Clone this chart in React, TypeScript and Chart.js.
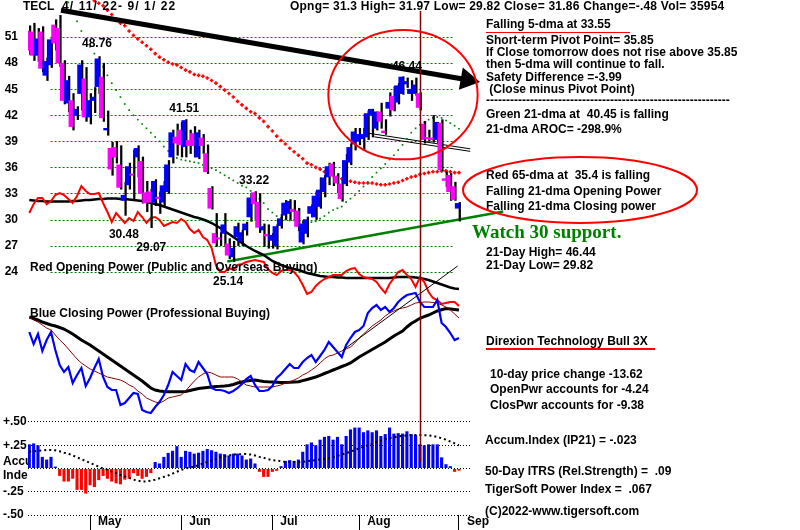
import React, { useEffect, useRef } from "react";
import { Chart, registerables } from "chart.js";
Chart.register(...registerables);

// ---------- data ----------
const MONTH_LABELS = ["May", "Jun", "Jul", "Aug", "Sep"];
const MONTH_START_IDX = [14, 35, 56, 76, 99];
const PRICE_TICKS = [24, 27, 30, 33, 36, 39, 42, 45, 48, 51];
const ACCUM_TICKS = [-0.5, -0.25, 0, 0.25, 0.5];

const OPEN = [51.7,51.6,48.9,51.6,46.6,47.8,52.4,52.0,48.0,43.4,43.7,42.0,44.5,46.2,41.8,43.7,45.3,46.4,40.3,38.2,38.3,36.3,32.2,34.0,35.25,37.2,36.7,33.1,33.2,32.0,32.6,32.0,33.2,37.2,39.5,40.3,38.4,39.1,39.9,37.2,39.4,37.6,33.6,28.4,27.9,28.4,27.2,25.7,28.0,27.5,28.8,30.3,33.1,32.0,28.8,28.3,27.6,27.0,29.3,30.5,30.7,31.2,31.0,27.4,28.4,30.7,30.3,31.5,33.2,34.9,36.4,35.0,34.1,34.1,36.6,38.7,39.0,39.3,39.5,42.0,40.5,42.4,40.2,42.8,44.2,43.5,44.5,45.6,44.5,44.5,44.5,41.0,39.45,39.4,39.2,41.1,34.7,35.1,33.8,31.3];
const HIGH = [52.3,52.6,52.0,52.2,48.6,51.0,53.0,53.5,48.3,46.5,44.5,43.0,48.3,47.5,44.5,45.2,48.76,48.0,42.5,38.9,39.0,38.5,34.3,36.5,38.0,38.5,37.2,34.4,33.5,34.6,33.2,34.4,36.8,40.3,41.0,41.2,41.51,40.3,40.7,40.3,39.8,38.6,33.8,30.7,28.5,30.7,27.8,27.5,29.6,28.8,29.7,33.0,33.22,33.0,29.5,29.4,28.4,29.4,30.6,32.2,32.3,32.2,31.3,29.9,30.3,31.7,33.2,34.8,35.1,36.5,36.6,35.3,34.5,37.5,38.7,40.5,40.5,40.5,42.5,42.7,42.4,43.4,41.5,44.6,45.3,45.7,46.44,46.3,46.0,46.3,44.6,41.3,40.3,42.0,41.2,41.5,35.5,35.3,34.3,31.97];
const LOW = [49.0,48.3,48.2,47.0,46.0,47.5,49.5,47.6,43.3,42.4,40.3,41.5,42.6,41.3,41.0,42.3,44.5,41.3,39.7,35.1,36.5,33.5,30.48,33.5,32.3,34.9,31.9,30.9,29.07,31.6,30.7,31.5,33.0,36.5,37.4,37.2,37.2,37.6,37.2,37.0,37.6,35.3,31.2,26.9,27.0,26.9,25.5,25.14,27.0,27.0,28.2,29.8,30.0,28.5,26.9,26.7,26.7,26.6,29.0,30.0,30.0,30.0,28.7,27.2,28.0,30.3,30.0,31.3,32.6,34.0,33.9,33.1,32.1,33.9,36.3,38.0,38.6,38.0,39.2,39.5,40.3,40.5,39.8,41.9,42.5,43.3,44.4,45.2,43.7,44.3,42.6,38.8,39.0,38.9,38.8,35.6,33.8,32.2,32.2,29.82];
const CLOSE = [49.5,48.9,50.8,47.4,48.2,50.7,50.3,48.0,43.7,46.0,40.7,42.7,47.8,41.8,43.7,44.1,48.5,41.7,40.5,35.8,37.2,33.7,32.8,36.1,35.1,38.2,33.0,31.9,32.0,34.4,32.4,33.9,36.3,40.0,38.8,38.6,41.4,38.5,38.5,40.0,38.5,35.5,31.3,27.3,27.75,29.4,25.9,26.7,29.2,28.5,29.5,32.5,31.8,29.1,29.2,28.1,28.2,29.2,30.1,31.9,32.1,30.9,29.2,29.5,30.0,31.5,32.7,33.4,34.8,36.1,35.0,34.2,32.4,36.8,38.3,40.1,39.8,39.8,42.2,42.7,42.4,41.3,40.0,43.5,42.6,45.4,46.4,45.9,45.0,45.5,42.9,39.2,39.3,39.2,41.2,35.7,34.5,33.2,32.3,31.86];

const MA21_START = 9;
const MA21 = [55.0,54.0,52.8,51.7,50.7,49.9,49.1,48.3,47.6,46.6,45.7,44.9,44.1,43.3,42.6,42.0,41.5,41.0,40.5,40.0,39.5,39.0,38.4,37.9,37.4,37.1,36.9,36.8,36.7,36.6,36.5,36.3,36.1,35.9,35.7,35.4,35.1,34.8,34.5,34.2,33.9,33.7,33.3,32.8,32.4,31.9,31.2,30.8,30.4,30.2,30.0,29.9,29.9,29.8,29.7,29.6,29.7,29.8,30.1,30.4,30.8,31.1,31.3,31.5,32.0,32.4,32.8,33.3,33.8,34.3,34.9,35.4,35.9,36.4,36.9,37.4,38.0,38.6,39.3,40.0,40.5,40.9,41.2,41.5,41.7,41.8,41.7,41.4,41.1,40.8,40.45];
const MA65_START = 14;
const MA65 = [55.6,55.2,54.9,54.6,54.1,53.6,53.1,52.6,52.3,51.7,51.2,50.8,50.4,50.0,49.6,49.1,48.7,48.4,48.1,47.9,47.8,47.5,47.2,47.0,46.7,46.6,46.5,46.3,46.0,45.7,45.3,44.9,44.5,44.1,43.6,43.2,42.8,42.4,42.2,41.7,41.3,40.7,40.2,39.6,39.1,38.7,38.2,37.8,37.4,37.0,36.5,36.3,36.0,35.8,35.5,35.3,35.1,34.9,34.7,34.5,34.4,34.3,34.2,34.2,34.2,34.2,34.1,34.0,34.0,34.1,34.2,34.3,34.5,34.7,34.9,35.0,35.2,35.3,35.4,35.5,35.5,35.6,35.6,35.5,35.4,35.4];

// Opening power (red) and its smoothing (black), arbitrary units
const OPEN_POWER = [302,311,317,317,311,314,320,322,320,316,312,319,329,324,321,321,322,312,303,293,302,297,292,297,294,303,298,292,297,298,295,289,291,293,292,296,293,286,282,285,278,275,267,250,243,243,247,245,250,251,253,254,255,254,253,246,242,240,244,245,245,243,238,230,221,223,229,233,236,238,240,240,240,244,246,247,241,238,237,236,233,227,222,231,237,243,245,240,236,228,238,233,223,217,215,211,212,213,213,209];
const OPEN_POWER_MA = [315,314.5,314,314,313.5,313.5,313.5,313.5,313.5,313.5,314,314,314.5,315,315,315.5,316,316,316.5,316.5,316.5,316,316,315.5,315,314.5,314,313,312,311,310,308.5,307,305.5,304,302.5,301,299.5,298,297,295.5,294,292,289.5,287,284,281,278,275,272,269,266.5,264,262,260,257,254,252,250,248.5,247,246,245,243.5,242,241,240,239,238.5,238,238,237.5,237.5,237,237,237,237,237,237,237,237,237,237,237,237.5,238,238,238,238,237.5,237,236,235,233.5,232,230.5,229,227.5,226.5,226];
// Closing power (blue) and its averages, arbitrary units
const CLOSE_POWER = [183,171,181,164,175,183,165,150,143,148,132,140,147,129,137,147,156,138,128,125,125,110,112,117,122,121,105,103,102,108,113,120,130,143,139,135,151,145,143,153,147,141,127,125,125,124,122,124,127,131,136,139,130,124,124,125,129,137,141,146,151,147,147,153,157,160,153,159,165,173,168,163,158,170,177,183,185,189,202,207,210,205,208,203,207,213,217,220,221,222,213,208,208,208,215,192,188,182,175,177];
const CLOSE_POWER_MA_SHORT = [198,195,193,190,187,185,180,175,171,166,161,156,152,149,146,144,142,140,138,137,136,135,133,130,128,124,121,117,115,113,112,114,117,118,119,120,124,129,134,138,141,143,142,140,138,138,138,138,136,133,130,129,128,128,128,128,128,129,130,132,133,135,137,140,142,145,148,152,156,159,160,162,164,166,168,172,177,181,185,189,192,195,199,202,204,206,207,208,210,212,212.5,213,213,212.5,212,210,208,205,201,197];
const CLOSE_POWER_MA_LONG = [198,196.5,195,193,191.5,190,189,187.5,186,183.5,181,178,175,172.5,170,167,164,161,158,155,152,149,146,143,140,137,134,130.5,127,125,124,123.5,123.3,123.3,123.3,123.3,123.5,124.5,125.5,126.5,127,127.5,128,128.5,128.7,129,129.5,130.5,132,133,134,134.5,135,134.2,133.5,133.2,133,132.7,132.4,132.5,132.7,133,133.3,134.4,135.5,136.7,138,139.7,141.5,143.2,145,146.7,148.5,150.2,152,155,158,160.5,163,165.5,168,170.5,173,176,179,181.5,184,188,191.5,194,196.7,198.4,200,202,204,205.2,206.5,206,205.5,205];
const CLOSE_POWER_TREND = [{ x: 72.3, y: 165 }, { x: 98.7, y: 249 }];

const ACCUM = [0.26,0.27,0.25,0.125,0.096,0.125,0.02,-0.08,-0.14,-0.14,-0.11,-0.23,-0.23,-0.27,-0.18,-0.2,-0.125,-0.08,-0.11,-0.14,-0.16,-0.17,-0.12,-0.11,-0.05,-0.08,-0.11,-0.09,-0.05,0.07,0.054,0.125,0.168,0.19,0.24,0.125,0.19,0.18,0.16,0.17,0.19,0.21,0.196,0.18,0.16,0.154,0.14,0.16,0.16,0.14,0.096,0.107,0.054,-0.036,-0.09,-0.09,-0.036,-0.025,0.025,0.082,0.09,0.082,0.096,0.18,0.26,0.28,0.25,0.31,0.34,0.35,0.31,0.34,0.26,0.35,0.42,0.44,0.44,0.39,0.41,0.39,0.41,0.35,0.37,0.44,0.375,0.38,0.375,0.4,0.37,0.36,0.26,0.25,0.26,0.26,0.26,0.12,0.046,0.025,-0.036,-0.023];
const ACCUM_MA = [0.18,0.185,0.19,0.195,0.2,0.2,0.195,0.185,0.17,0.16,0.14,0.12,0.1,0.08,0.06,0.04,0.02,0.0,-0.015,-0.035,-0.05,-0.07,-0.085,-0.1,-0.12,-0.13,-0.14,-0.14,-0.13,-0.12,-0.105,-0.09,-0.075,-0.055,-0.035,-0.015,0.0,0.01,0.02,0.035,0.055,0.07,0.085,0.1,0.12,0.13,0.14,0.15,0.152,0.155,0.155,0.15,0.14,0.125,0.115,0.1,0.09,0.085,0.078,0.07,0.07,0.07,0.07,0.072,0.078,0.084,0.09,0.097,0.105,0.112,0.12,0.135,0.15,0.165,0.18,0.2,0.215,0.235,0.25,0.265,0.285,0.3,0.315,0.325,0.335,0.345,0.35,0.355,0.358,0.36,0.36,0.358,0.355,0.35,0.34,0.325,0.31,0.29,0.27,0.25];

const TREND_ARROW = [{ x: 7.3, y: 54.1 }, { x: 100.9, y: 46.1 }];
const SUPPORT_LINE = [{ x: 45.6, y: 25.16 }, { x: 109.2, y: 30.93 }];
const CHANNEL_A = [{ x: 78.2, y: 39.93 }, { x: 101.6, y: 38.14 }];
const CHANNEL_B = [{ x: 79.5, y: 39.52 }, { x: 101.6, y: 37.85 }];
const MARKER_IDX = 90;

const PRICE_NOTES = [
  { t: "48.76", x: 15.6, y: 50.2 },
  { t: "41.51", x: 35.7, y: 42.8 },
  { t: "33.22", x: 51.8, y: 34.5 },
  { t: "30.48", x: 21.8, y: 28.3 },
  { t: "29.07", x: 28.1, y: 26.8 },
  { t: "25.14", x: 45.8, y: 22.9 },
  { t: "46.44", x: 87.0, y: 47.65 },
];
const CIRCLE = { x: 86.1, y: 44.37, rx: 17.2, ry: 7.44 };

const FAMILY = '"Liberation Sans", Arial, sans-serif';
const FONT = `bold 12px ${FAMILY}`;
const TEXTS = [
  { t: "TECL", x: 23, y: 7 },
  { t: "4/ 11/ 22- 9/ 1/ 22", x: 62, y: 7, spacing: 1.1 },
  { t: "Opng= 31.3 High= 31.97 Low= 29.82 Close= 31.86 Change=-.48 Vol= 35954", x: 290, y: 7, spacing: 0.22 },
  { t: "Falling 5-dma at 33.55", x: 486, y: 25 },
  { t: "Short-term Pivot Point= 35.85", x: 486, y: 41 },
  { t: "If Close tomorrow does not rise above 35.85", x: 486, y: 53 },
  { t: "then 5-dma will continue to fall.", x: 486, y: 65 },
  { t: "Safety Difference =-3.99", x: 486, y: 78 },
  { t: " (Close minus Pivot Point)", x: 486, y: 90 },
  { t: "-".repeat(61), x: 486, y: 101 },
  { t: "Green 21-dma at  40.45 is falling", x: 486, y: 115 },
  { t: "21-dma AROC= -298.9%", x: 486, y: 130 },
  { t: "Red 65-dma at  35.4 is falling", x: 486, y: 176 },
  { t: "Falling 21-dma Opening Power", x: 486, y: 192 },
  { t: "Falling 21-dma Closing power", x: 486, y: 207 },
  { t: "Watch 30 support.", x: 472, y: 233, font: 'bold 19px "Liberation Serif", "Times New Roman", serif', color: "#008000" },
  { t: "21-Day High= 46.44", x: 486, y: 253 },
  { t: "21-Day Low= 29.82", x: 486, y: 266 },
  { t: "Direxion Technology Bull 3X", x: 486, y: 342 },
  { t: "10-day price change -13.62", x: 490, y: 375 },
  { t: "OpenPwr accounts for -4.24", x: 490, y: 390 },
  { t: "ClosPwr accounts for -9.38", x: 490, y: 406 },
  { t: "Accum.Index (IP21) = -.023", x: 485, y: 441 },
  { t: "50-Day ITRS (Rel.Strength) =  .09", x: 485, y: 472 },
  { t: "TigerSoft Power Index =  .067", x: 485, y: 490 },
  { t: "(C)2022-www.tigersoft.com", x: 485, y: 512 },
  { t: "Red Opening Power (Public and Overseas Buying)", x: 30, y: 268 },
  { t: "Blue Closing Power (Professional Buying)", x: 30, y: 314 },
];

// ---------- helpers ----------
const series = (arr: number[], start = 0) => arr.map((v, k) => ({ x: k + start, y: v }));

const annotPlugin = {
  id: "annot",
  beforeDatasetsDraw(chart: any) {
    const { ctx, scales } = chart;
    const x = scales.x, y = scales.y;
    ctx.save();
    ctx.strokeStyle = "#008000";
    ctx.lineWidth = 1;
    ctx.setLineDash([2, 2]);
    const x0 = x.getPixelForValue(4.9), x1 = x.getPixelForValue(97.7);
    for (const t of PRICE_TICKS) {
      const py = Math.round(y.getPixelForValue(t)) + 0.5;
      ctx.beginPath();
      ctx.moveTo(x0, py);
      ctx.lineTo(x1, py);
      ctx.stroke();
    }
    ctx.restore();
  },
  afterDatasetsDraw(chart: any) {
    const { ctx, scales } = chart;
    const x = scales.x, y = scales.y, ya = scales.yAcc;
    ctx.save();
    const mx = Math.round(x.getPixelForValue(MARKER_IDX)) + 0.5;
    ctx.strokeStyle = "#800000";
    ctx.lineWidth = 1.5;
    ctx.beginPath();
    ctx.moveTo(mx, y.getPixelForValue(54.0));
    ctx.lineTo(mx, ya.getPixelForValue(0.07));
    ctx.stroke();
    const cx = x.getPixelForValue(CIRCLE.x), cy = y.getPixelForValue(CIRCLE.y);
    const rx = Math.abs(x.getPixelForValue(CIRCLE.x + CIRCLE.rx) - cx);
    const ry = Math.abs(y.getPixelForValue(CIRCLE.y + CIRCLE.ry) - cy);
    ctx.strokeStyle = "#ff0000";
    ctx.lineWidth = 2;
    ctx.beginPath();
    ctx.ellipse(cx, cy, rx, ry, 0, 0, Math.PI * 2);
    ctx.stroke();
    ctx.fillStyle = "#000";
    ctx.font = FONT;
    ctx.textAlign = "center";
    ctx.textBaseline = "middle";
    for (const n of PRICE_NOTES) {
      ctx.fillText(n.t, x.getPixelForValue(n.x), y.getPixelForValue(n.y));
    }
    ctx.restore();
  },
  afterDraw(chart: any) {
    const { ctx } = chart;
    ctx.save();
    ctx.textAlign = "left";
    ctx.textBaseline = "middle";
    for (const s of TEXTS) {
      ctx.font = (s as any).font || FONT;
      ctx.fillStyle = (s as any).color || "#000";
      (ctx as any).letterSpacing = ((s as any).spacing || 0) + "px";
      ctx.fillText(s.t, s.x, s.y);
    }
    (ctx as any).letterSpacing = "0px";
    ctx.strokeStyle = "#ff0000";
    ctx.lineWidth = 1;
    ctx.beginPath();
    ctx.moveTo(486, 32.5);
    ctx.lineTo(630, 32.5);
    ctx.stroke();
    ctx.lineWidth = 2;
    ctx.beginPath();
    ctx.moveTo(486, 349);
    ctx.lineTo(655, 349);
    ctx.stroke();
    ctx.beginPath();
    ctx.ellipse(580, 190, 117, 33, 0, 0, Math.PI * 2);
    ctx.stroke();
    ctx.restore();
  },
};

export default function App() {
  const ref = useRef<HTMLCanvasElement | null>(null);
  useEffect(() => {
    if (!ref.current) return;
    const bodyData = OPEN.map((o, i) => ({ x: i, y: [o, CLOSE[i]] }));
    const wickData = HIGH.map((h, i) => ({ x: i, y: [LOW[i], h] }));
    const bodyColors = OPEN.map((o, i) => (CLOSE[i] >= o ? "#0000ff" : "#ff00ff"));
    const accColors = ACCUM.map((v) => (v >= 0 ? "#0000ff" : "#ff0000"));
    const lineBase = { type: "line", pointRadius: 0, pointHoverRadius: 0, tension: 0, fill: false };
    const tickFont = { family: FAMILY, size: 12, weight: "bold" };
    const chart = new Chart(ref.current, {
      type: "bar",
      data: {
        datasets: [
          { ...lineBase, label: "trend", data: TREND_ARROW, yAxisID: "y", borderColor: "#000", borderWidth: 5,
            pointRadius: [0, 8], pointStyle: "triangle", pointRotation: [0, 100], pointBackgroundColor: "#000",
            pointBorderColor: "#000", clip: false, order: 0 } as any,
          { type: "bar", label: "body", data: bodyData, yAxisID: "y", backgroundColor: bodyColors, barThickness: 3.8,
            borderWidth: 0, order: 1 } as any,
          { type: "bar", label: "wick", data: wickData, yAxisID: "y", backgroundColor: "#000", barThickness: 1.6,
            borderWidth: 0, order: 2 } as any,
          { ...lineBase, label: "ma21", data: series(MA21, MA21_START), yAxisID: "y", showLine: false,
            pointRadius: 1.2, pointStyle: "rect", pointBackgroundColor: "#008000", pointBorderColor: "#008000",
            pointBorderWidth: 0, order: 3 } as any,
          { ...lineBase, label: "ma65", data: series(MA65, MA65_START), yAxisID: "y", showLine: false,
            pointRadius: 1.8, pointStyle: "cross", pointBorderColor: "#ff0000", pointBorderWidth: 1.6, order: 4 } as any,
          { ...lineBase, label: "chA", data: CHANNEL_A, yAxisID: "y", borderColor: "#000", borderWidth: 1, clip: false, order: 5 } as any,
          { ...lineBase, label: "chB", data: CHANNEL_B, yAxisID: "y", borderColor: "#000", borderWidth: 1, clip: false, order: 5 } as any,
          { ...lineBase, label: "cpTrend", data: CLOSE_POWER_TREND, yAxisID: "yPwr", borderColor: "#000", borderWidth: 1, order: 6 } as any,
          { ...lineBase, label: "cp", data: series(CLOSE_POWER), yAxisID: "yPwr", borderColor: "#0000ff", borderWidth: 2.2, order: 7 } as any,
          { ...lineBase, label: "cpS", data: series(CLOSE_POWER_MA_SHORT), yAxisID: "yPwr", borderColor: "#8b0000", borderWidth: 1, order: 8 } as any,
          { ...lineBase, label: "cpL", data: series(CLOSE_POWER_MA_LONG), yAxisID: "yPwr", borderColor: "#000", borderWidth: 3, order: 9 } as any,
          { ...lineBase, label: "op", data: series(OPEN_POWER), yAxisID: "yPwr", borderColor: "#ff0000", borderWidth: 2, order: 10 } as any,
          { ...lineBase, label: "opMA", data: series(OPEN_POWER_MA), yAxisID: "yPwr", borderColor: "#000", borderWidth: 2.5, order: 11 } as any,
          { ...lineBase, label: "support", data: SUPPORT_LINE, yAxisID: "y", borderColor: "#008000", borderWidth: 2.5, clip: false, order: 12 } as any,
          { ...lineBase, label: "accMA", data: series(ACCUM_MA), yAxisID: "yAcc", borderColor: "#000", borderWidth: 2,
            borderDash: [2, 3], order: 13 } as any,
          { type: "bar", label: "acc", data: series(ACCUM), yAxisID: "yAcc", backgroundColor: accColors, grouped: false,
            maxBarThickness: 3.4, borderWidth: 0, order: 14 } as any,
        ],
      },
      options: {
        animation: false,
        responsive: false,
        events: [],
        layout: { autoPadding: false, padding: { left: 3, right: 328, top: 0, bottom: 0 } },
        plugins: { legend: { display: false }, tooltip: { enabled: false } },
        scales: {
          x: {
            type: "linear", min: -0.3, max: 102, offset: false, bounds: "data", grace: 0,
            afterBuildTicks: (s: any) => { s.ticks = MONTH_START_IDX.map((v) => ({ value: v })); },
            afterFit: (s: any) => { s.height = 15; s.paddingLeft = 0; s.paddingRight = 0; },
            ticks: {
              callback: (v: any) => { const k = MONTH_START_IDX.indexOf(v); return k >= 0 ? MONTH_LABELS[k] : ""; },
              align: "start", labelOffset: 8, padding: -16, autoSkip: false, maxRotation: 0,
              font: tickFont, color: "#000",
            },
            grid: { offset: false, drawOnChartArea: false, drawTicks: true, tickLength: 15, color: "#000", lineWidth: 1 },
            border: { display: false },
          },
          y: {
            type: "linear", position: "left", stack: "L", stackWeight: 410, weight: 2, min: 8.08, max: 55.27,
            afterBuildTicks: (s: any) => { s.ticks = PRICE_TICKS.map((v) => ({ value: v })); },
            afterFit: (s: any) => { s.width = 25; s.paddingTop = 0; s.paddingBottom = 0; },
            ticks: { crossAlign: "near", padding: 10, autoSkip: false, font: tickFont, color: "#000" },
            grid: { display: false, drawTicks: false },
            border: { display: false },
          },
          yAcc: {
            type: "linear", position: "left", stack: "L", stackWeight: 105, weight: 1, min: -0.5, max: 0.629,
            afterBuildTicks: (s: any) => { s.ticks = ACCUM_TICKS.map((v) => ({ value: v })); },
            afterFit: (s: any) => { s.width = 25; s.paddingTop = 0; s.paddingBottom = 0; },
            ticks: {
              crossAlign: "far", padding: 0, autoSkip: false, font: tickFont, color: "#000",
              callback: (v: any) => {
                if (v === 0) return ["Accu", "Index"];
                const s = Math.abs(v).toFixed(2).replace(/^0/, "");
                return (v > 0 ? "+" : "-") + s;
              },
            },
            grid: { color: "#000", lineWidth: 1, drawTicks: false },
            border: { display: false, dash: [1, 2] },
          },
          yPwr: { type: "linear", position: "left", display: false, min: 0, max: 515 },
        },
      } as any,
      plugins: [annotPlugin],
    } as any);
    return () => chart.destroy();
  }, []);
  return (
    <div style={{ position: "absolute", left: 0, top: 0, width: 800, height: 530, background: "#fff" }}>
      <canvas ref={ref} width={800} height={530} style={{ display: "block" }} />
    </div>
  );
}
